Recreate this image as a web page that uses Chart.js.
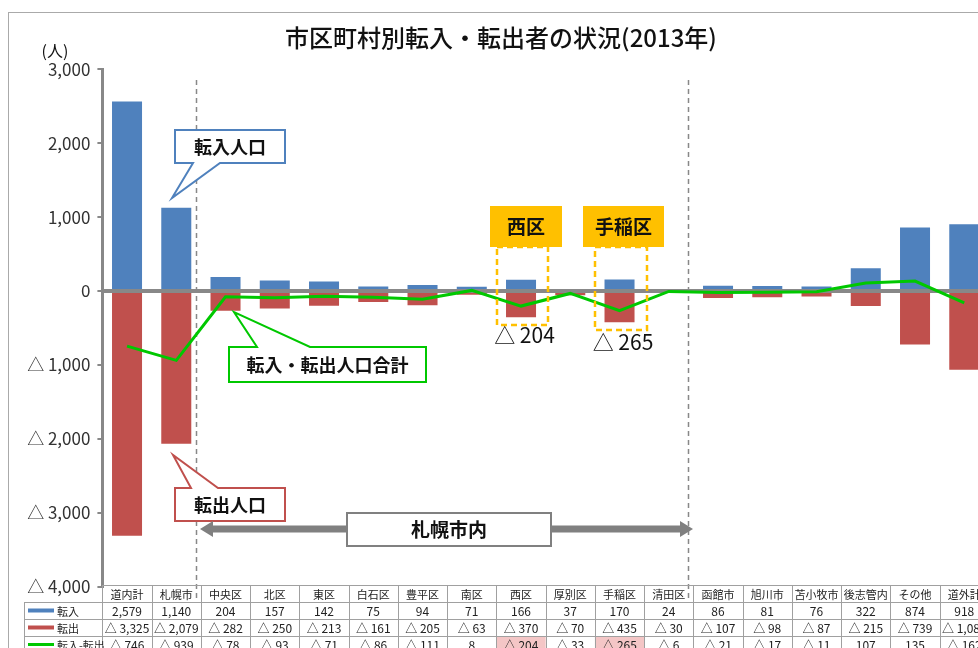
<!DOCTYPE html>
<html>
<head>
<meta charset="utf-8">
<script src="https://cdn.jsdelivr.net/npm/chart.js@4.4.0/dist/chart.umd.min.js"></script>
<style>
  html, body { margin: 0; padding: 0; background: #fff; overflow: hidden; }
  #wrap { position: relative; width: 978px; height: 648px; overflow: hidden; }
  canvas { position: absolute; left: 0; top: 0; }
</style>
</head>
<body>
<div id="wrap"><canvas id="chart" width="1000" height="700"></canvas></div>
<script>
// data
const categories = ['道内計', '札幌市', '中央区', '北区', '東区', '白石区', '豊平区', '南区', '西区',
  '厚別区', '手稲区', '清田区', '函館市', '旭川市', '苫小牧市', '後志管内', 'その他', '道外計'];
const inflow  = [2579, 1140, 204, 157, 142, 75, 94, 71, 166, 37, 170, 24, 86, 81, 76, 322, 874, 918];
const outflow = [-3325, -2079, -282, -250, -213, -161, -205, -63, -370, -70, -435, -30, -107, -98, -87, -215, -739, -1080];
const net     = [-746, -939, -78, -93, -71, -86, -111, 8, -204, -33, -265, -6, -21, -17, -11, 107, 135, -162];
const seriesNames = ['転入', '転出', '転入-転出'];
const yMin = -4000, yMax = 3000, yStep = 1000;
const highlighted = ['西区', '手稲区'];

const FONT = '"Noto Sans CJK JP", "Noto Sans", sans-serif';
const BLUE = '#4F81BD', RED = '#C0504D', GREEN = '#00C800';

function fmt(v) {
  const s = String(Math.abs(v)).replace(/\B(?=(\d{3})+(?!\d))/g, ',');
  return v < 0 ? '△ ' + s : s;
}

// box with a pointer, like the excel callouts
function callout(ctx, x, y, w, h, edge, b1, b2, tip, color, text, size) {
  ctx.save();
  ctx.beginPath();
  if (edge === 'bottom') {
    ctx.moveTo(x, y); ctx.lineTo(x + w, y); ctx.lineTo(x + w, y + h);
    ctx.lineTo(b2, y + h); ctx.lineTo(tip[0], tip[1]); ctx.lineTo(b1, y + h);
    ctx.lineTo(x, y + h);
  } else {
    ctx.moveTo(x, y); ctx.lineTo(b1, y); ctx.lineTo(tip[0], tip[1]); ctx.lineTo(b2, y);
    ctx.lineTo(x + w, y); ctx.lineTo(x + w, y + h); ctx.lineTo(x, y + h);
  }
  ctx.closePath();
  ctx.fillStyle = '#fff';
  ctx.fill();
  ctx.strokeStyle = color;
  ctx.lineWidth = 2;
  ctx.stroke();
  ctx.fillStyle = '#111';
  ctx.font = 'bold ' + size + 'px ' + FONT;
  ctx.textAlign = 'center';
  ctx.textBaseline = 'middle';
  ctx.fillText(text, x + w / 2, y + h / 2 + 1);
  ctx.restore();
}

const decorations = {
  id: 'decorations',
  beforeDatasetsDraw(chart) {
    const ctx = chart.ctx;
    const x = chart.scales.x;
    const half = (x.getPixelForValue(1) - x.getPixelForValue(0)) / 2;
    ctx.save();
    ctx.strokeStyle = '#888';
    ctx.lineWidth = 1.5;
    ctx.setLineDash([5, 4]);
    [1, 11].forEach(i => {
      const px = Math.round(x.getPixelForValue(i) + half) - 4.5;
      ctx.beginPath(); ctx.moveTo(px, 80); ctx.lineTo(px, 600); ctx.stroke();
    });
    ctx.restore();
  },
  beforeDatasetDraw(chart, args) {
    if (args.meta.type !== 'line') return;
    const ctx = chart.ctx, a = chart.chartArea;
    const y0 = chart.scales.y.getPixelForValue(0);
    ctx.save();
    ctx.strokeStyle = '#888';
    ctx.lineWidth = 4;
    ctx.beginPath(); ctx.moveTo(a.left, y0); ctx.lineTo(a.right, y0); ctx.stroke();
    ctx.restore();
  },
  afterDraw(chart) {
    const ctx = chart.ctx;
    const xs = chart.scales.x;
    const colW = xs.getPixelForValue(1) - xs.getPixelForValue(0);
    const left = chart.chartArea.left;

    // outer frame
    ctx.save();
    ctx.strokeStyle = '#aaa';
    ctx.lineWidth = 1;
    ctx.strokeRect(8.5, 12.5, 1200, 1200);

    // title and unit
    ctx.fillStyle = '#111';
    ctx.textAlign = 'center';
    ctx.textBaseline = 'middle';
    ctx.font = '500 24px ' + FONT;
    ctx.fillText('市区町村別転入・転出者の状況(2013年)', 501, 38);
    ctx.font = '16px ' + FONT;
    ctx.fillText('(人)', 55, 51);

    // callouts
    callout(ctx, 175, 130, 110, 33, 'bottom', 193, 220, [172, 198], BLUE, '転入人口', 18);
    callout(ctx, 175, 488, 110, 33, 'top', 191, 218, [173, 455], RED, '転出人口', 18);
    callout(ctx, 229, 347, 197, 35, 'top', 257, 310, [234, 312], GREEN, '転入・転出人口合計', 18);

    // highlighted wards
    const boxes = [
      { name: '西区', bx: 490, bw: 72, dx: 497, dw: 51, dh: 78, ly: 335 },
      { name: '手稲区', bx: 583, bw: 81, dx: 595, dw: 52, dh: 83, ly: 342 }
    ];
    boxes.forEach(b => {
      ctx.fillStyle = '#FFC000';
      ctx.fillRect(b.bx, 206, b.bw, 41);
      ctx.fillStyle = '#111';
      ctx.font = 'bold 19px ' + FONT;
      ctx.fillText(b.name, b.bx + b.bw / 2, 227);
      ctx.save();
      ctx.strokeStyle = '#FFC000';
      ctx.lineWidth = 2.5;
      ctx.setLineDash([6, 4]);
      ctx.strokeRect(b.dx, 247, b.dw, b.dh);
      ctx.restore();
      const i = categories.indexOf(b.name);
      ctx.font = '21px ' + FONT;
      ctx.fillStyle = '#111';
      ctx.fillText(fmt(net[i]), b.dx + b.dw / 2 + 2, b.ly);
    });

    // 札幌市内 arrow
    const ax1 = 200, ax2 = 693, ay = 529;
    ctx.strokeStyle = '#808080';
    ctx.fillStyle = '#808080';
    ctx.lineWidth = 7;
    ctx.beginPath(); ctx.moveTo(ax1 + 10, ay); ctx.lineTo(ax2 - 10, ay); ctx.stroke();
    ctx.beginPath(); ctx.moveTo(ax1, ay); ctx.lineTo(ax1 + 13, ay - 8); ctx.lineTo(ax1 + 13, ay + 8); ctx.closePath(); ctx.fill();
    ctx.beginPath(); ctx.moveTo(ax2, ay); ctx.lineTo(ax2 - 13, ay - 8); ctx.lineTo(ax2 - 13, ay + 8); ctx.closePath(); ctx.fill();
    ctx.fillStyle = '#fff';
    ctx.fillRect(347, 513, 204, 33);
    ctx.lineWidth = 2;
    ctx.strokeRect(347, 513, 204, 33);
    ctx.fillStyle = '#111';
    ctx.font = 'bold 19px ' + FONT;
    ctx.fillText('札幌市内', 449, 530);

    // data table
    const rowH = 17, top = 585;
    const rows = [inflow, outflow, net];
    const swatch = [[BLUE, 4], [RED, 4], [GREEN, 3]];
    ctx.lineWidth = 1;
    ctx.strokeStyle = '#a0a0a0';
    // highlighted cells
    ctx.fillStyle = '#F4C6C6';
    highlighted.forEach(n => {
      const i = categories.indexOf(n);
      ctx.fillRect(left + i * colW, top + rowH * 3, colW, rowH);
    });
    for (let r = 0; r < 4; r++) {
      const y = top + r * rowH;
      const x0 = r === 0 ? left : 24;
      ctx.strokeRect(Math.round(x0) + 0.5, Math.round(y) + 0.5, left + categories.length * colW - x0, rowH);
    }
    for (let i = 0; i <= categories.length; i++) {
      const px = Math.round(left + i * colW) + 0.5;
      ctx.beginPath(); ctx.moveTo(px, top); ctx.lineTo(px, top + rowH * 4); ctx.stroke();
    }
    ctx.textAlign = 'center';
    ctx.fillStyle = '#222';
    ctx.font = '11px ' + FONT;
    categories.forEach((c, i) => ctx.fillText(c, left + (i + 0.5) * colW, top + rowH / 2 + 1));
    ctx.font = '12px ' + FONT;
    rows.forEach((vals, r) => {
      const y = top + (r + 1) * rowH + rowH / 2 + 1;
      vals.forEach((v, i) => ctx.fillText(fmt(v), left + (i + 0.5) * colW, y));
    });
    // legend keys
    ctx.textAlign = 'left';
    ctx.font = '11px ' + FONT;
    seriesNames.forEach((s, r) => {
      const y = top + (r + 1) * rowH + rowH / 2;
      ctx.strokeStyle = swatch[r][0];
      ctx.lineWidth = swatch[r][1];
      ctx.beginPath(); ctx.moveTo(28, y); ctx.lineTo(54, y); ctx.stroke();
      ctx.fillStyle = '#222';
      ctx.fillText(s, 57, y + 1);
    });
    ctx.restore();
  }
};

const chart = new Chart(document.getElementById('chart'), {
  type: 'bar',
  data: {
    labels: categories,
    datasets: [
      {
        label: seriesNames[0], data: inflow, backgroundColor: BLUE,
        borderColor: 'rgba(255,255,255,0.5)', borderWidth: 1,
        barPercentage: 0.65, categoryPercentage: 1, order: 1
      },
      {
        label: seriesNames[1], data: outflow, backgroundColor: RED,
        borderColor: 'rgba(255,255,255,0.5)', borderWidth: 1,
        barPercentage: 0.65, categoryPercentage: 1, order: 1
      },
      {
        type: 'line', label: seriesNames[2], data: net, stack: 'net',
        borderColor: GREEN, borderWidth: 3, pointRadius: 0, tension: 0, order: 0
      }
    ]
  },
  options: {
    responsive: false,
    devicePixelRatio: 1,
    animation: false,
    layout: { padding: { left: 0, top: 69.3, right: 11.1, bottom: 113.4 } },
    plugins: { legend: { display: false }, tooltip: { enabled: false } },
    scales: {
      x: { display: false, stacked: true },
      y: {
        stacked: true,
        min: yMin, max: yMax,
        afterFit: s => { s.width = 102.4; },
        border: { display: true, color: '#888', width: 3 },
        grid: { drawOnChartArea: false, drawTicks: true, tickLength: 5, color: '#888', lineWidth: 2 },
        ticks: {
          stepSize: yStep, padding: 7, color: '#333',
          font: { family: FONT, size: 17 },
          callback: v => fmt(v)
        }
      }
    }
  },
  plugins: [decorations]
});
</script>
</body>
</html>
